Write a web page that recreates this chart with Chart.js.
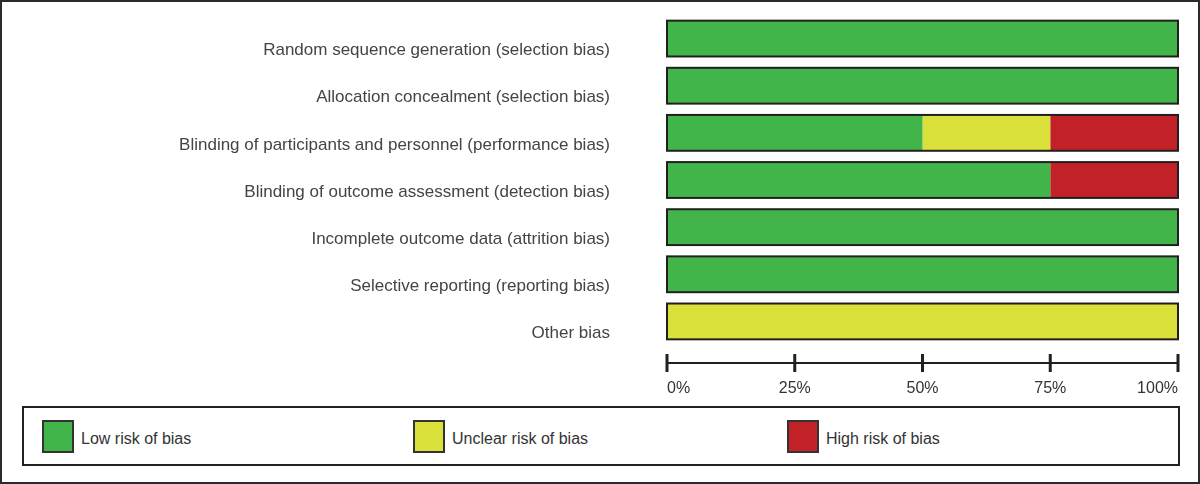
<!DOCTYPE html>
<html>
<head>
<meta charset="utf-8">
<script src="https://cdn.jsdelivr.net/npm/chart.js@4"></script>
<style>
  body { margin: 0; background: #fff; font-family: "Liberation Sans", Arial, sans-serif; }
  #frame { position: absolute; left: 0; top: 0; width: 1200px; height: 484px; box-sizing: border-box; border: 2px solid #2b2b2b; }
  #chartBox { position: absolute; left: 0; top: 0; width: 1200px; height: 400px; }
  #legend { position: absolute; left: 22px; top: 406px; width: 1158px; height: 60px; box-sizing: border-box; border: 2px solid #222; }
  .item { position: absolute; top: 12px; height: 32px; line-height: 32px; font-size: 16px; color: #333; }
  .swatch { position: absolute; left: 0; top: 0; width: 28px; height: 29px; border: 2px solid #333; }
  .item span { position: absolute; left: 39px; top: 3px; white-space: nowrap; }
</style>
</head>
<body>
<div id="frame"></div>
<div id="chartBox"><canvas id="BarRiskOfBias" width="1200" height="400"></canvas></div>
<div id="legend"></div>
<script>
const domains = [
    'Random sequence generation (selection bias)',
    'Allocation concealment (selection bias)',
    'Blinding of participants and personnel (performance bias)',
    'Blinding of outcome assessment (detection bias)',
    'Incomplete outcome data (attrition bias)',
    'Selective reporting (reporting bias)',
    'Other bias'
];
const lowRisk = [100, 100, 50, 75, 100, 100, 0];
const unclearRisk = [0, 0, 25, 0, 0, 0, 100];
const highRisk = [0, 0, 25, 25, 0, 0, 0];
const seriesLabels = ['Low risk of bias', 'Unclear risk of bias', 'High risk of bias'];
const seriesColors = ['#41b54a', '#dbe13b', '#c32128'];
const tickValues = [0, 25, 50, 75, 100];

// one outline round each whole row, no lines between the segments
const rowOutline = {
    id: 'rowOutline',
    afterDatasetsDraw(chart) {
        const ctx = chart.ctx;
        const metas = chart.getSortedVisibleDatasetMetas();
        ctx.save();
        ctx.strokeStyle = '#231f20';
        ctx.lineWidth = 2;
        chart.data.labels.forEach((lab, i) => {
            let l = Infinity, r = -Infinity, top = 0, h = 0;
            metas.forEach(m => {
                const p = m.data[i].getProps(['x', 'y', 'base', 'height'], true);
                l = Math.min(l, p.x, p.base);
                r = Math.max(r, p.x, p.base);
                top = p.y - p.height / 2;
                h = p.height;
            });
            ctx.strokeRect(l, top, r - l, h);
        });
        ctx.restore();
    }
};

// percentage axis: line with ticks crossing it
const percentAxis = {
    id: 'percentAxis',
    afterDraw(chart) {
        const ctx = chart.ctx;
        const xs = chart.scales.x;
        const y = chart.chartArea.bottom + 18;
        ctx.save();
        ctx.strokeStyle = '#231f20';
        ctx.lineWidth = 2;
        ctx.beginPath();
        ctx.moveTo(xs.getPixelForValue(0), y);
        ctx.lineTo(xs.getPixelForValue(100), y);
        ctx.stroke();
        ctx.lineWidth = 3;
        ctx.beginPath();
        tickValues.forEach(v => {
            const px = xs.getPixelForValue(v);
            ctx.moveTo(px, y - 9);
            ctx.lineTo(px, y + 9);
        });
        ctx.stroke();
        ctx.restore();
    }
};

let BarRiskOfBias = new Chart(
    document.getElementById('BarRiskOfBias'), {
        type: 'bar',
        plugins: [rowOutline, percentAxis],
        data: {
            labels: domains,
            datasets: [
                { label: seriesLabels[0], data: lowRisk, backgroundColor: seriesColors[0] },
                { label: seriesLabels[1], data: unclearRisk, backgroundColor: seriesColors[1] },
                { label: seriesLabels[2], data: highRisk, backgroundColor: seriesColors[2] },
            ]
        },
        options: {
            indexAxis: 'y',
            responsive: false,
            animation: false,
            layout: { padding: { left: 0, right: 22, top: 15, bottom: 0 } },
            datasets: {
                bar: { borderWidth: 0, categoryPercentage: 1, barPercentage: 0.76 }
            },
            scales: {
                x: {
                    stacked: true,
                    min: 0,
                    max: 100,
                    grid: { display: false, drawTicks: false },
                    border: { display: false },
                    afterFit: s => { s.height = 55; s.paddingLeft = 0; s.paddingRight = 0; },
                    afterBuildTicks: s => { s.ticks = tickValues.map(v => ({ value: v })); },
                    ticks: {
                        padding: 34,
                        align: 'inner',
                        color: '#333',
                        font: { family: 'Liberation Sans', size: 16 },
                        callback: v => v + '%'
                    }
                },
                y: {
                    stacked: true,
                    grid: { display: false, drawTicks: false },
                    border: { display: false },
                    afterFit: s => { s.width = 667; s.paddingTop = 0; s.paddingBottom = 0; },
                    ticks: {
                        autoSkip: false,
                        padding: 57,
                        labelOffset: 12,
                        color: '#444',
                        font: { family: 'Liberation Sans', size: 17 }
                    }
                }
            },
            plugins: {
                legend: { display: false },
                tooltip: { enabled: false },
                title: { display: false }
            }
        }
    }
);

// legend box under the chart
const legendLeft = [18, 389, 763];
const legend = document.getElementById('legend');
seriesLabels.forEach((lab, i) => {
    const item = document.createElement('div');
    item.className = 'item';
    item.style.left = legendLeft[i] + 'px';
    const sw = document.createElement('div');
    sw.className = 'swatch';
    sw.style.background = seriesColors[i];
    const tx = document.createElement('span');
    tx.textContent = lab;
    item.appendChild(sw);
    item.appendChild(tx);
    legend.appendChild(item);
});
</script>
</body>
</html>
